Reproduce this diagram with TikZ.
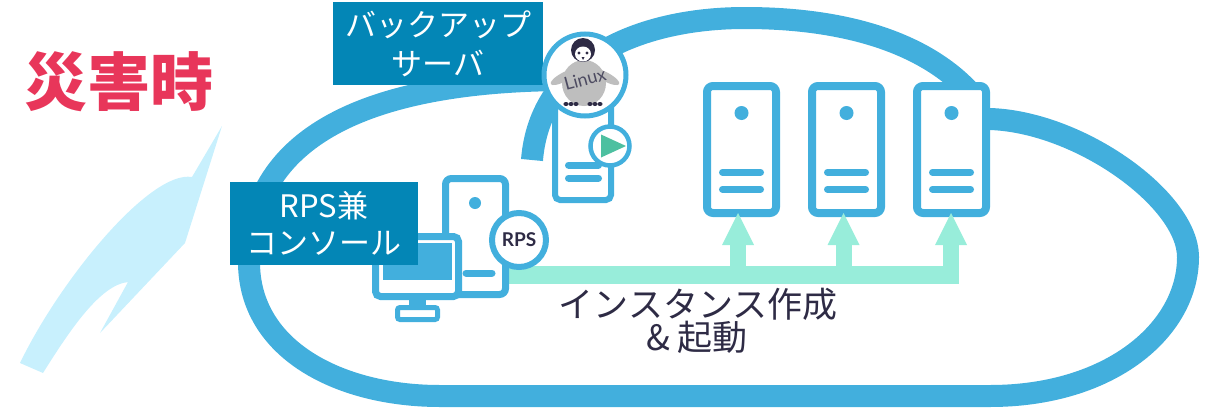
\documentclass[tikz,border=0pt]{standalone}
\usepackage{fontspec}
\newfontfamily\jp{Noto Sans CJK JP}
\newfontfamily\lat{Lato}
\definecolor{cloudblue}{HTML}{42AFDD}
\definecolor{labelblue}{HTML}{0386B6}
\definecolor{alertred}{HTML}{E8365A}
\definecolor{boltblue}{HTML}{C8F0FD}
\definecolor{mint}{HTML}{98EDDA}
\definecolor{ink}{HTML}{2E2B45}
\definecolor{playgreen}{HTML}{4DC0A0}
\definecolor{penggray}{HTML}{BEBEBE}

\begin{document}
\begin{tikzpicture}[x=1pt,y=-1pt,
  ring/.style={draw=cloudblue,line width=22pt},
  bar/.style={draw=cloudblue,line width=7pt,line cap=round},
  server/.style={draw=cloudblue,fill=white,line width=8pt,rounded corners=6pt,
    minimum width=69pt,minimum height=127pt,inner sep=0pt},
  tag/.style={fill=labelblue,text=white,align=center,inner sep=0pt,
    font=\jp\fontsize{31}{39}\selectfont},
  badge/.style={circle,draw=cloudblue,fill=white,inner sep=0pt},
  flow/.style={fill=mint}]

\useasboundingbox (0,0) rectangle (1210,410);

% lightning bolt
\fill[boltblue] (222,126) -- (192,177)
  .. controls (150,170) and (60,280) .. (20,363) -- (43,373)
  .. controls (70,330) and (100,285) .. (128,282)
  -- (100,333) -- (185,243) -- cycle;

% cloud outline
\draw[ring] (570,80) .. controls (380,80) and (249,130) .. (249,262)
  .. controls (249,350) and (340,396) .. (440,396) -- (990,396)
  .. controls (1110,396) and (1188,330) .. (1188,257)
  .. controls (1188,200) and (1080,122) .. (990,119) -- (960,119);
\draw[ring] (532,160) .. controls (540,60) and (640,18) .. (745,18)
  .. controls (850,18) and (925,45) .. (968,90);

% title
\node[text=alertred,font=\jp\bfseries\fontsize{63}{63}\selectfont,inner sep=0pt]
  (title) at (119,81.5) {災害時};

% instances in the cloud
\foreach \n/\cx in {1/741.5,2/846.5,3/951.5}{
  \node[server] (srv\n) at (\cx,149.5) {};
  \fill[cloudblue] (\cx,113) circle[radius=7];
  \draw[bar] (\cx-19,172.3) -- (\cx+19,172.3);
  \draw[bar] (\cx-19,189.3) -- (\cx+19,189.3);
}

% launch flow from the RPS to each instance
\fill[flow] (509,266) rectangle (959,284);
\foreach \n/\tx in {1/738,2/843.5,3/951}{
  \coordinate (tip\n) at (\tx,213);
  \fill[flow] (\tx-8,243) rectangle (\tx+8,270);
  \fill[flow] (\tx-16,245) -- (\tx+16,245) -- (tip\n) -- cycle;
}

% RPS console: tower, monitor, badge
\node[draw=cloudblue,fill=white,line width=7pt,rounded corners=6pt,
  minimum width=60pt,minimum height=116pt,inner sep=0pt] (tower) at (475.5,236.5) {};
\fill[cloudblue] (475,203) circle[radius=6];
\draw[bar] (466,273) -- (492,273);
\node[draw=cloudblue,fill=white,line width=7pt,rounded corners=5pt,
  minimum width=83pt,minimum height=60pt,inner sep=0pt] (mon) at (417,266.5) {};
\fill[cloudblue] (383,243) rectangle (452,280);
\fill[cloudblue] (409,299) rectangle (426,308);
\draw[cloudblue,line width=5pt,fill=white,rounded corners=2.5pt]
  (397.5,307.5) rectangle (437.5,319.5);
\node[badge,line width=6pt,minimum size=54pt,text=ink,
  font=\lat\bfseries\fontsize{19}{19}\selectfont] (rps) at (519,240) {RPS};

% backup server with Linux badge and start badge
\node[draw=cloudblue,fill=white,line width=6pt,rounded corners=5pt,
  minimum width=56pt,minimum height=100pt,inner sep=0pt] (bk) at (583,150) {};
\draw[bar] (568.5,165) -- (598.5,165);
\draw[bar] (568.5,178) -- (598.5,178);
\node[badge,line width=4.5pt,minimum size=39pt] (play) at (610,146) {};
\fill[playgreen] (601,134.5) -- (601,157.5) -- (626,146) -- cycle;

% labels
\node[tag,minimum width=210pt,minimum height=83pt] (bklabel) at (438,43.5)
  {バックアップ\\サーバ};
\node[tag,minimum width=188pt,minimum height=83pt,
  font=\jp\fontsize{31}{37.5}\selectfont] (conlabel) at (324,223.5)
  {RPS兼\\コンソール};

\node[badge,line width=5pt,minimum size=82pt] (tux) at (585,75) {};
\begin{scope}
  \clip (585,75) circle[radius=38.5];
  \fill[penggray,rotate around={28:(564,77)}] (564,77) ellipse[x radius=15,y radius=4.5];
  \fill[penggray,rotate around={-28:(606,77)}] (606,77) ellipse[x radius=15,y radius=4.5];
  \fill[penggray] (584,83) ellipse[x radius=22,y radius=23];
  \fill[ink] (583,50) circle[radius=12];
  \fill[white] (583,54) ellipse[x radius=8,y radius=7.5];
  \fill[ink] (579,53) circle[radius=1.7];
  \fill[ink] (587,53) circle[radius=1.7];
  \fill[ink] (581.5,57) -- (584.5,57) -- (583,60) -- cycle;
  \foreach \fx in {566,571,576,590,595,600}
    \fill[ink] (\fx,104) ellipse[x radius=2.6,y radius=2];
\end{scope}
\node[text=ink!85!white,font=\lat\fontsize{18}{18}\selectfont,rotate=15,inner sep=0pt]
  (linux) at (585,79) {Linux};

% caption of the flow
\node[text=ink,font=\jp\fontsize{35}{35}\selectfont,inner sep=0pt] (act) at (698,304)
  {インスタンス作成};
\node[text=ink,font=\jp\fontsize{35}{35}\selectfont,inner sep=0pt] (act2) at (697,337)
  {\& 起動};
\end{tikzpicture}
\end{document}
